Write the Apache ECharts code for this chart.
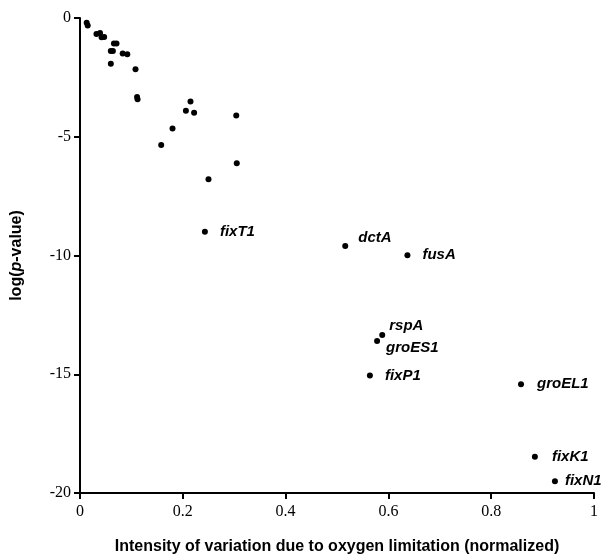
<!DOCTYPE html>
<html>
<head>
<meta charset="utf-8">
<script src="https://cdn.jsdelivr.net/npm/echarts@6/dist/echarts.min.js"></script>
<style>
  html, body { margin: 0; padding: 0; background: #fff; }
  #chart { width: 606px; height: 558px; }
</style>
</head>
<body>
<div id="chart"></div>
<script>
// unlabeled genes
const plainX = [0.013, 0.015, 0.032, 0.039, 0.042, 0.047, 0.066, 0.071, 0.060, 0.064, 0.083, 0.092,
  0.060, 0.108, 0.111, 0.112, 0.158, 0.180, 0.206, 0.215, 0.222, 0.304, 0.305, 0.250];
const plainY = [-0.20, -0.32, -0.67, -0.63, -0.81, -0.80, -1.07, -1.07, -1.39, -1.39, -1.49, -1.53,
  -1.93, -2.16, -3.33, -3.42, -5.35, -4.65, -3.91, -3.52, -3.99, -4.10, -6.12, -6.79];

// labeled genes
const geneNames = ['fixT1', 'dctA', 'fusA', 'rspA', 'groES1', 'fixP1', 'groEL1', 'fixK1', 'fixN1'];
const geneX = [0.243, 0.516, 0.637, 0.588, 0.578, 0.564, 0.858, 0.885, 0.924];
const geneY = [-9.0, -9.6, -9.99, -13.35, -13.6, -15.05, -15.42, -18.47, -19.5];

const xTicks = [0, 0.2, 0.4, 0.6, 0.8, 1];
const yTicks = [0, -5, -10, -15, -20];

// where each label sits next to its dot
const labelOffsets = {
  fixT1: [12, 0], dctA: [10, -8], fusA: [12, 0], rspA: [4, -9], groES1: [6, 7],
  fixP1: [12, 0], groEL1: [13, 0], fixK1: [14, 0], fixN1: [7, 0]
};

const serif = '"Liberation Serif", "DejaVu Serif", serif';
const sans = '"Liberation Sans", Arial, sans-serif';

const chart = echarts.init(document.getElementById('chart'));
chart.setOption({
  animation: false,
  grid: { left: 80, right: 12, top: 18, bottom: 65, outerBoundsMode: 'none', containLabel: false },
  xAxis: {
    type: 'value',
    min: xTicks[0],
    max: xTicks[xTicks.length - 1],
    interval: 0.2,
    name: 'Intensity of variation due to oxygen limitation (normalized)',
    nameLocation: 'middle',
    nameGap: 46,
    nameTextStyle: { fontFamily: sans, fontWeight: 'bold', fontSize: 16, color: '#000' },
    axisLine: { onZero: false, lineStyle: { color: '#000', width: 2 } },
    axisTick: { length: 6, lineStyle: { color: '#000', width: 2 } },
    axisLabel: { color: '#000', fontFamily: serif, fontSize: 16, margin: 11 },
    splitLine: { show: false }
  },
  yAxis: {
    type: 'value',
    min: yTicks[yTicks.length - 1],
    max: yTicks[0],
    interval: 5,
    name: '{n|log(}{i|p}{n|-value)}',
    nameLocation: 'middle',
    nameGap: 55,
    nameRotate: 90,
    nameTextStyle: {
      rich: {
        n: { fontFamily: sans, fontWeight: 'bold', fontSize: 16, color: '#000' },
        i: { fontFamily: sans, fontWeight: 'bold', fontStyle: 'italic', fontSize: 16, color: '#000' }
      }
    },
    axisLine: { onZero: false, lineStyle: { color: '#000', width: 2 } },
    axisTick: { length: 6, lineStyle: { color: '#000', width: 2 } },
    axisLabel: { color: '#000', fontFamily: serif, fontSize: 16, margin: 9 },
    splitLine: { show: false }
  },
  series: [
    {
      type: 'scatter',
      symbol: 'circle',
      symbolSize: 6,
      itemStyle: { color: '#000', opacity: 1 },
      data: plainX.map((x, i) => [x, plainY[i]])
    },
    {
      type: 'scatter',
      symbol: 'circle',
      symbolSize: 6,
      itemStyle: { color: '#000', opacity: 1 },
      data: geneNames.map((name, i) => ({
        name: name,
        value: [geneX[i], geneY[i]],
        label: { offset: labelOffsets[name] }
      })),
      label: {
        show: true,
        position: 'right',
        distance: 0,
        formatter: '{b}',
        color: '#000',
        fontFamily: sans,
        fontWeight: 'bold',
        fontStyle: 'italic',
        fontSize: 15
      }
    }
  ]
});
</script>
</body>
</html>
